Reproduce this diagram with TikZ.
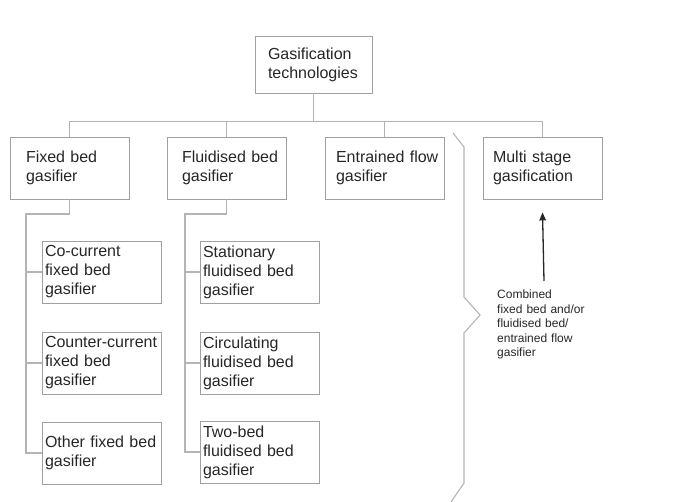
\documentclass[tikz,border=0pt]{standalone}
\usepackage{fontspec}
\setmainfont{Liberation Sans}
\usepackage{tikz}
\usetikzlibrary{positioning,arrows.meta}
\definecolor{BoxGray}{HTML}{A0A0A0}
\definecolor{LinkGray}{HTML}{B4B4B4}
\definecolor{InkGray}{HTML}{262626}
\tikzset{
  topnode/.style={draw=BoxGray,line width=0.9pt,
    minimum width=117pt,minimum height=57pt,text width=91pt,
    inner xsep=13pt,inner ysep=0pt,align=left,
    font=\fontsize{16}{19}\selectfont\color{InkGray}},
  tecnode/.style={draw=BoxGray,line width=0.9pt,
    minimum width=119pt,minimum height=62pt,text width=113pt,
    inner xsep=3pt,inner ysep=0pt,align=left,
    execute at begin node={\leftskip=#1\relax},
    font=\fontsize{16}{19}\selectfont\color{InkGray}},
  tecnode/.default=12pt,
  subnode/.style={draw=BoxGray,line width=0.9pt,
    minimum width=119pt,minimum height=62pt,text width=113pt,
    inner xsep=3pt,inner ysep=0pt,align=left,
    font=\fontsize{16}{19}\selectfont\color{InkGray}},
  notenode/.style={anchor=north west,inner sep=0pt,text width=100pt,align=left,
    font=\fontsize{12}{14.5}\selectfont\color{InkGray}},
  link/.style={line width=1.1pt,draw=LinkGray},
  arrowS/.style={line width=1.3pt,draw=black!85,
    -{Triangle[length=8pt,width=6.5pt]}},
}

\begin{document}
\begin{tikzpicture}[x=1pt,y=-1pt]
  \useasboundingbox (0,0) rectangle (698,502);
  \node[topnode] (top) at (313.5,64.5) {Gasification\\technologies};
  \node[tecnode=13pt] (fixed) at (69.5,168) {Fixed bed\\gasifier};
  \node[tecnode=12pt] (fluid) at (226.5,168) {Fluidised bed\\gasifier};
  \node[tecnode=8pt] (entr) at (384.5,168) {Entrained flow\\gasifier};
  \node[tecnode=7pt] (multi) at (542.5,168) {Multi stage\\gasification};
  \node[subnode] (fx1) at (101.5,272) {Co-current\\fixed bed\\gasifier};
  \node[subnode] (fx2) at (101.5,363) {Counter-current\\fixed bed\\gasifier};
  \node[subnode] (fx3) at (101.5,453) {Other fixed bed\\gasifier};
  \node[subnode] (fl1) at (259.5,272) {Stationary\\fluidised bed\\gasifier};
  \node[subnode] (fl2) at (259.5,363) {Circulating\\fluidised bed\\gasifier};
  \node[subnode] (fl3) at (259.5,452) {Two-bed\\fluidised bed\\gasifier};
  \node[notenode] (note) at (497,290) {Combined\\fixed bed and/or\\fluidised bed/\\entrained flow\\gasifier};
  % tree
  \draw[link] (top.south) -- ++(0,28) coordinate (hub);
  \foreach \n in {fixed,fluid,entr,multi}
    \draw[link] (hub) -| (\n.north);
  \coordinate (fxspine) at (26,214);
  \coordinate (flspine) at (185,214);
  \draw[link] (fixed.south) |- (fxspine) |- (fx3.west);
  \draw[link] (fluid.south) |- (flspine) |- (fl3.west);
  \foreach \n in {fx1,fx2}
    \draw[link] (fxspine |- \n.west) -- (\n.west);
  \foreach \n in {fl1,fl2}
    \draw[link] (flspine |- \n.west) -- (\n.west);
  % brace
  \draw[link] (453,133) -- (464,147) -- (464,297) -- (480,315)
    -- (464,333) -- (464,483) -- (451,502);
  % arrow
  \coordinate (tail) at (544,281);
  \draw[arrowS] (tail) -- ([yshift=-13pt]multi.south);
\end{tikzpicture}
\end{document}
